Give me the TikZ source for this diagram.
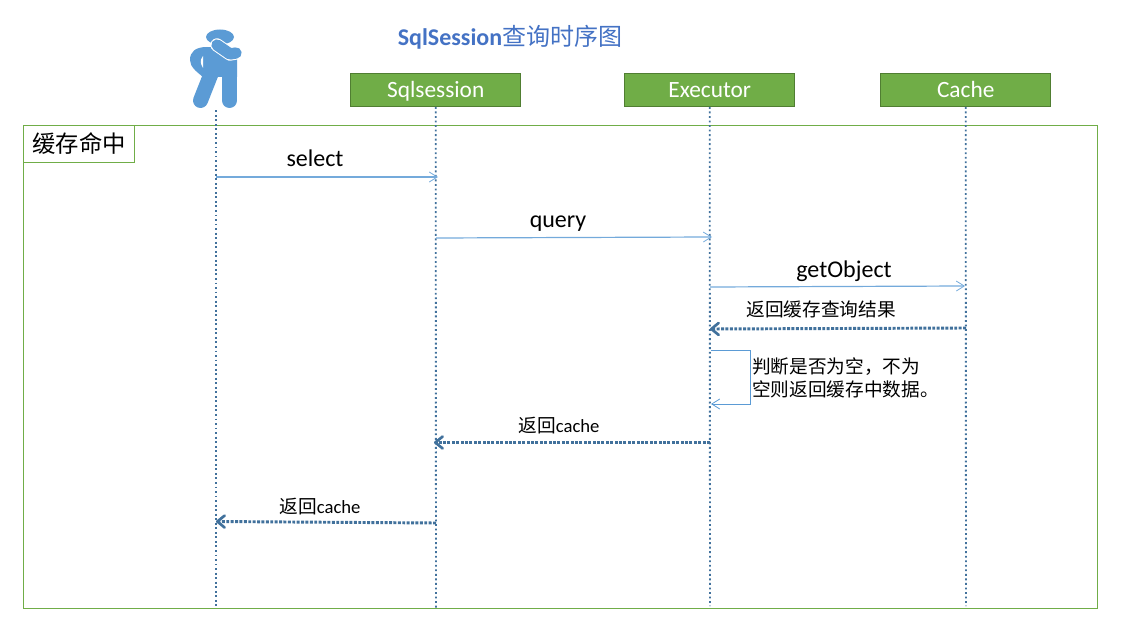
\documentclass[tikz,border=0pt]{standalone}
\usepackage{fontspec}
\setmainfont{Carlito}
\newfontfamily\cjk{Noto Sans CJK SC}
\usetikzlibrary{arrows.meta,positioning}

\definecolor{boxgreen}{HTML}{70AD47}
\definecolor{boxedge}{HTML}{507E32}
\definecolor{linkblue}{HTML}{5B9BD5}
\definecolor{lifeblue}{HTML}{41719C}
\definecolor{titleblue}{HTML}{4472C4}

\begin{document}
\begin{tikzpicture}[
    x=0.75pt,
    y=-0.75pt,
    obj/.style={
        draw=boxedge,
        fill=boxgreen,
        text=white,
        font=\fontsize{17.5}{18}\selectfont,
        text height=14.5pt,
        text depth=3.5pt,
        minimum width=127.5pt,
        minimum height=24.75pt,
        inner sep=0pt
    },
    frame/.style={
        draw=boxgreen,
        minimum width=805.5pt,
        minimum height=362.25pt,
        inner sep=0pt
    },
    tag/.style={
        draw=boxgreen,
        fill=white,
        font=\fontsize{17.5}{18}\selectfont\cjk,
        minimum width=83.25pt,
        minimum height=27.75pt,
        inner sep=0pt
    },
    msg/.style={
        font=\fontsize{18}{18}\selectfont,
        inner sep=0pt
    },
    note/.style={
        font=\fontsize{14}{17.25}\selectfont\cjk,
        inner sep=0pt
    },
    life/.style={
        lifeblue,
        line width=1.4pt,
        dotted
    },
    call/.style={
        linkblue!85,
        line width=0.9pt,
        -{Straight Barb[length=6pt,width=7.5pt,line width=0.6pt]}
    },
    loopcall/.style={
        linkblue,
        line width=0.6pt,
        -{Straight Barb[length=6pt,width=7.5pt]}
    },
    reply/.style={
        lifeblue,
        line width=2.2pt,
        dash pattern=on 2.2pt off 1.1pt,
        -{Straight Barb[length=5.5pt,width=9pt,line width=2pt,round]}
    }
]
\useasboundingbox (0,0) rectangle (1129,631);

\node[frame] (cached) at (560,366.5) {};
\node[tag, anchor=north west, xshift=0.5pt] (cachedtag) at (cached.north west) {缓存命中};

\node[font=\fontsize{18}{20}\selectfont, text=titleblue] (title) at (510,37)
    {\textbf{SqlSession}{\cjk 查询时序图}};

\node[minimum width=37.5pt, minimum height=60pt, inner sep=0pt] (user) at (216,70) {};
\node[obj] (session) at (435.7,90.2) {Sqlsession};
\node[obj] (executor) at (709.7,90.2) {Executor};
\node[obj] (cache) at (965.7,90.2) {Cache};

% the figure
\fill[linkblue] (220,37) ellipse (14 and 7.5);
\fill[linkblue] (207,47) .. controls (195,47) and (190,52) .. (190,60)
    .. controls (190,67) and (197,72) .. (203,77) -- (237,77) -- (237,48) -- cycle;
\draw[linkblue, line width=11.25pt, line cap=round] (211,74) -- (200.5,100.5);
\draw[linkblue, line width=11.25pt, line cap=round] (229.5,72) -- (229.5,100.5);
\fill[white] (203,56) .. controls (200,60) and (200,63) .. (203,68) -- cycle;
\draw[white, line width=10pt, line cap=round, line join=round] (217,45) -- (230,54) -- (236,53);
\draw[linkblue, line width=8.5pt, line cap=round, line join=round] (217,45) -- (230,54) -- (236,53);

% lifelines
\coordinate (userend) at (216,608);
\coordinate (sessionend) at (436,610);
\coordinate (executorend) at (710,606);
\coordinate (cacheend) at (966,606);
\draw[life] (user.south) -- (userend);
\draw[life] (session.south) -- (sessionend);
\draw[life] (executor.south) -- (executorend);
\draw[life] (cache.south) -- (cacheend);

% message ends
\coordinate (a1) at (216,177);
\coordinate (a2) at (438,177);
\coordinate (b1) at (436,238);
\coordinate (b2) at (712,237);
\coordinate (c1) at (710,287);
\coordinate (c2) at (965,286);
\coordinate (d1) at (966,328);
\coordinate (d2) at (710,329);
\coordinate (e1) at (711,350);
\coordinate (e2) at (750,350);
\coordinate (e3) at (750,404);
\coordinate (e4) at (711,404);
\coordinate (f1) at (710,442.5);
\coordinate (f2) at (434,442.5);
\coordinate (g1) at (436,523);
\coordinate (g2) at (216,521.5);

\draw[call] (a1) -- (a2);
\draw[call] (b1) -- (b2);
\draw[call] (c1) -- (c2);
\draw[reply] (d1) -- (d2);
\draw[loopcall] (e1) -- (e2) -- (e3) -- (e4);
\draw[reply] (f1) -- (f2);
\draw[reply] (g1) -- (g2);

\node[msg] (selectlabel) at (315,158.5) {select};
\node[msg] (querylabel) at (558,224) {query};
\node[msg] (getlabel) at (844,271) {getObject};
\node[note] (resultlabel) at (821,309) {返回缓存查询结果};
\node[note, anchor=west, align=left] (checklabel) at (752,378) {判断是否为空，不为\\空则返回缓存中数据。};
\node[note] (backlabel) at (559,426) {返回{\fontspec{Carlito}cache}};
\node[note] (userlabel) at (320,507) {返回{\fontspec{Carlito}cache}};
\end{tikzpicture}
\end{document}
